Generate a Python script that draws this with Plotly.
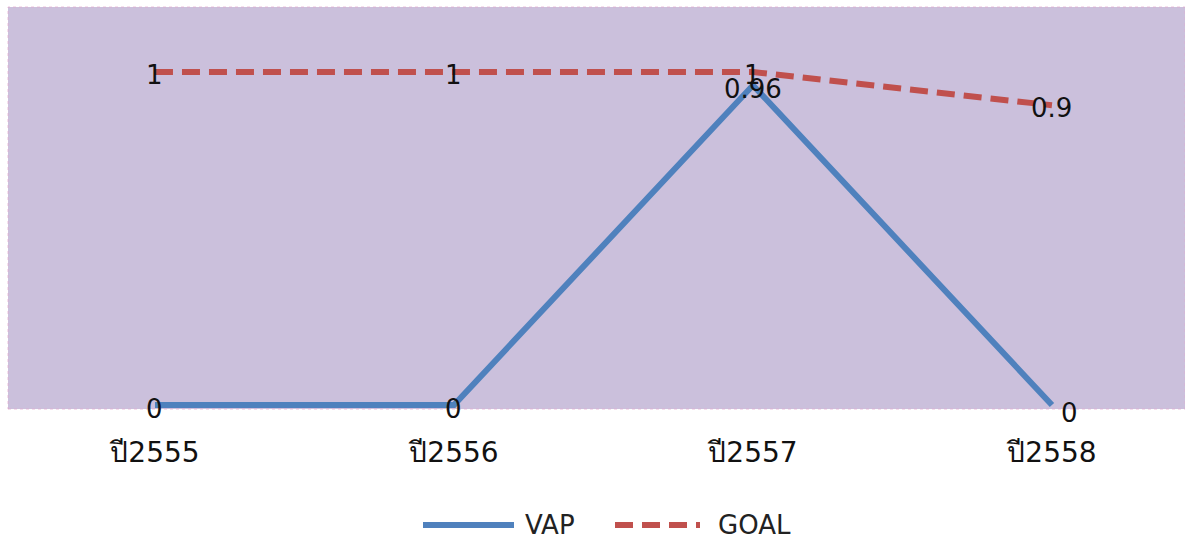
import plotly.graph_objects as go

# Data
years = ["ปี2555", "ปี2556", "ปี2557", "ปี2558"]
vap = [0, 0, 0.96, 0]
goal = [1, 1, 1, 0.9]

BLUE = "#4F81BD"
RED = "#C0504D"
BG = "#CBC0DC"
FONT = "DejaVu Sans"

W, H = 1185, 540
M_L, M_R, M_T, M_B = 8, 0, 7, 131

fig = go.Figure()
fig.add_trace(go.Scatter(x=years, y=vap, mode="lines", name="VAP",
                         line=dict(color=BLUE, width=6), showlegend=False))
fig.add_trace(go.Scatter(x=years, y=goal, mode="lines", name="GOAL",
                         line=dict(color=RED, width=6, dash="18px,9px"),
                         showlegend=False))

# value labels
annotations = []
for i, v in enumerate(goal):
    annotations.append(dict(x=years[i], y=v, text=f"{v:g}", showarrow=False,
                            yshift=-3, font=dict(family=FONT, size=26, color="#111")))
for i, v in enumerate(vap):
    xs = 18 if i == len(vap) - 1 else 0
    ys = -8 if i == len(vap) - 1 else -4
    annotations.append(dict(x=years[i], y=v, text=f"{v:g}", showarrow=False,
                            xshift=xs, yshift=ys,
                            font=dict(family=FONT, size=26, color="#111")))

# legend drawn below the plot area
plot_w = W - M_L - M_R
plot_h = H - M_T - M_B


def px_x(px):
    return (px - M_L) / plot_w


def px_y(py):
    return (H - M_B - py) / plot_h


leg_y = px_y(525)
shapes = [
    dict(type="line", xref="paper", yref="paper", x0=px_x(423), x1=px_x(514),
         y0=leg_y, y1=leg_y, line=dict(color=BLUE, width=6)),
    dict(type="line", xref="paper", yref="paper", x0=px_x(615), x1=px_x(700),
         y0=leg_y, y1=leg_y, line=dict(color=RED, width=6, dash="18px,9px")),
    dict(type="rect", xref="paper", yref="paper", x0=0, x1=1, y0=0, y1=1,
         line=dict(color="rgba(225,170,205,0.7)", width=1, dash="dot"),
         layer="below"),
]
annotations += [
    dict(xref="paper", yref="paper", x=px_x(523), y=leg_y, text="VAP",
         showarrow=False, xanchor="left", yanchor="middle",
         font=dict(family=FONT, size=26, color="#222")),
    dict(xref="paper", yref="paper", x=px_x(716), y=leg_y, text="GOAL",
         showarrow=False, xanchor="left", yanchor="middle",
         font=dict(family=FONT, size=26, color="#222")),
]

fig.update_layout(
    width=W, height=H,
    margin=dict(l=M_L, r=M_R, t=M_T, b=M_B),
    paper_bgcolor="white",
    plot_bgcolor=BG,
    showlegend=False,
    annotations=annotations,
    shapes=shapes,
    xaxis=dict(type="category", range=[-0.4916, 3.445], showgrid=False,
               zeroline=False, showline=False, ticks="outside", ticklen=18,
               tickcolor="rgba(0,0,0,0)",
               tickfont=dict(family=FONT, size=28, color="#111")),
    yaxis=dict(range=[-0.012, 1.195], showgrid=False, zeroline=False,
               showline=False, showticklabels=False),
)

fig.write_html("out.html")
